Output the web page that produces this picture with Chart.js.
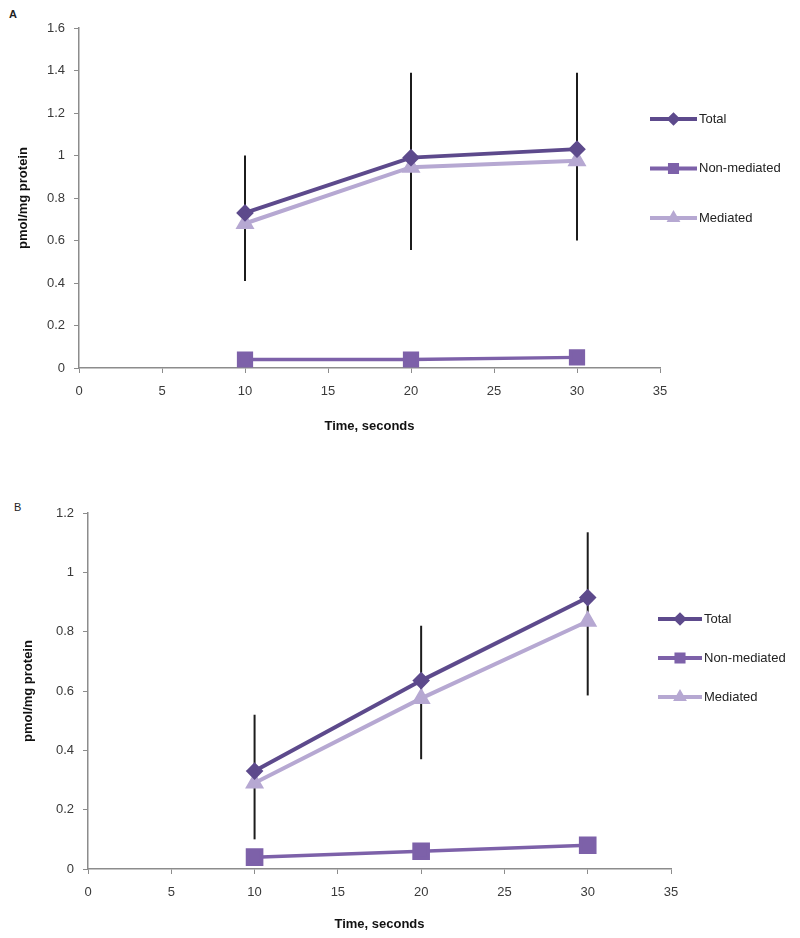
<!DOCTYPE html>
<html>
<head>
<meta charset="utf-8">
<script src="https://cdn.jsdelivr.net/npm/chart.js@4.4.1/dist/chart.umd.min.js"></script>
<style>
    body { margin: 0; background: #fff; width: 800px; height: 938px; position: relative; overflow: hidden; }
    canvas { position: absolute; left: 0; }
    #chartA { top: 0; }
    #chartB { top: 460px; }
    .panel { position: absolute; font-family: "Liberation Sans", Arial, sans-serif; font-size: 11px; color: #222; }
    #labelA { left: 9px; top: 8px; font-weight: bold; }
    #labelB { left: 14px; top: 501px; }
</style>
</head>
<body>
<div class="panel" id="labelA">A</div>
<div class="panel" id="labelB">B</div>
<canvas id="chartA" width="800" height="460"></canvas>
<canvas id="chartB" width="800" height="478"></canvas>
<script>
// Time points (seconds)
const times = [10, 20, 30];
const seriesNames = ['Total', 'Non-mediated', 'Mediated'];

// Panel A values (pmol/mg protein)
const totalA = [0.73, 0.99, 1.03];
const nonMediatedA = [0.04, 0.04, 0.05];
const mediatedA = [0.68, 0.945, 0.975];
const totalErrLowA = [0.41, 0.555, 0.60];
const totalErrHighA = [1.00, 1.39, 1.39];

// Panel B values (pmol/mg protein)
const totalB = [0.33, 0.635, 0.915];
const nonMediatedB = [0.04, 0.06, 0.08];
const mediatedB = [0.29, 0.575, 0.835];
const totalErrLowB = [0.10, 0.37, 0.585];
const totalErrHighB = [0.52, 0.82, 1.135];
const nonMedErrLowB = [null, null, 0.06];
const nonMedErrHighB = [null, null, 0.105];

// Axis ranges
const xMax = 35, xStep = 5;
const yMaxA = 1.6, yMaxB = 1.2, yStep = 0.2;

const colors = {
    total: '#5d4a8c',
    nonMediated: '#7d61a9',
    mediated: '#b6a8d2',
    axis: '#8c8c8c',
    text: '#3a3a3a',
    errBar: '#1c1c1c'
};
const fontFamily = '"Liberation Sans", Arial, sans-serif';

// vertical error bars, drawn under the lines
const errorBars = {
    id: 'errorBars',
    beforeDatasetsDraw(chart, args, opts) {
        const { ctx, scales: { x, y } } = chart;
        ctx.save();
        ctx.strokeStyle = colors.errBar;
        ctx.lineWidth = 2;
        opts.bars.forEach(bar => {
            bar.low.forEach((lo, i) => {
                if (lo == null) return;
                const px = x.getPixelForValue(times[i]);
                ctx.beginPath();
                ctx.moveTo(px, y.getPixelForValue(lo));
                ctx.lineTo(px, y.getPixelForValue(bar.high[i]));
                ctx.stroke();
            });
        });
        ctx.restore();
    }
};

// Excel style legend: line with marker in the middle
const lineLegend = {
    id: 'lineLegend',
    afterDraw(chart, args, opts) {
        const ctx = chart.ctx;
        chart.data.datasets.forEach((ds, i) => {
            const y = opts.top + i * opts.gap;
            const x0 = opts.left, x1 = opts.left + opts.len;
            ctx.save();
            ctx.strokeStyle = ds.borderColor;
            ctx.lineWidth = 4;
            ctx.beginPath();
            ctx.moveTo(x0, y);
            ctx.lineTo(x1, y);
            ctx.stroke();
            ctx.fillStyle = ds.pointBackgroundColor;
            ctx.strokeStyle = ds.pointBorderColor;
            Chart.helpers.drawPoint(ctx, { pointStyle: ds.pointStyle, radius: opts.markerRadius[i], borderWidth: 1, rotation: 0 }, (x0 + x1) / 2, y);
            ctx.fillStyle = '#222';
            ctx.font = '13px ' + fontFamily;
            ctx.textBaseline = 'middle';
            ctx.textAlign = 'left';
            ctx.fillText(ds.label, x1 + 2, y);
            ctx.restore();
        });
    }
};

function makeDatasets(total, nonMed, med, squareRadius) {
    const pts = arr => arr.map((v, i) => ({ x: times[i], y: v }));
    return [
        {
            label: seriesNames[0], data: pts(total),
            borderColor: colors.total, borderWidth: 4,
            pointStyle: 'rectRot', pointRadius: 6,
            pointBackgroundColor: colors.total, pointBorderColor: colors.total
        },
        {
            label: seriesNames[1], data: pts(nonMed),
            borderColor: colors.nonMediated, borderWidth: 3.5,
            pointStyle: 'rect', pointRadius: squareRadius,
            pointBackgroundColor: colors.nonMediated, pointBorderColor: colors.nonMediated
        },
        {
            label: seriesNames[2], data: pts(med),
            borderColor: colors.mediated, borderWidth: 4,
            pointStyle: 'triangle', pointRadius: 7,
            pointBackgroundColor: colors.mediated, pointBorderColor: colors.mediated
        }
    ];
}

function makeChart(canvasId, cfg) {
    return new Chart(document.getElementById(canvasId), {
        type: 'line',
        data: { datasets: cfg.datasets },
        options: {
            responsive: false,
            animation: false,
            devicePixelRatio: 1,
            layout: { padding: { left: 0, top: cfg.top, right: cfg.right, bottom: cfg.bottom } },
            plugins: {
                legend: { display: false },
                tooltip: { enabled: false },
                errorBars: { bars: cfg.bars },
                lineLegend: cfg.legend
            },
            scales: {
                x: {
                    type: 'linear', min: 0, max: xMax,
                    ticks: { stepSize: xStep, color: colors.text, font: { family: fontFamily, size: 13 }, padding: 11 },
                    grid: { drawOnChartArea: false, drawTicks: true, tickLength: 5, color: colors.axis },
                    border: { display: true, color: colors.axis, width: 1.5 },
                    title: {
                        display: true, text: 'Time, seconds', color: '#111',
                        font: { family: fontFamily, size: 13, weight: 'bold' },
                        padding: { top: 0, bottom: 4 }
                    },
                    afterFit: s => { s.height = cfg.xHeight; }
                },
                y: {
                    min: 0, max: cfg.yMax,
                    ticks: {
                        stepSize: yStep, color: colors.text, font: { family: fontFamily, size: 13 }, padding: 9,
                        callback: v => String(Number(v.toFixed(1)))
                    },
                    grid: { drawOnChartArea: false, drawTicks: true, tickLength: 5, color: colors.axis },
                    border: { display: true, color: colors.axis, width: 1.5 },
                    title: {
                        display: true, text: 'pmol/mg protein', color: '#111',
                        font: { family: fontFamily, size: 13, weight: 'bold' },
                        padding: { top: cfg.yTitlePad, bottom: 0 }
                    },
                    afterFit: s => { s.width = cfg.yWidth; }
                }
            }
        },
        plugins: [errorBars, lineLegend]
    });
}

makeChart('chartA', {
    datasets: makeDatasets(totalA, nonMediatedA, mediatedA, 9),
    bars: [{ low: totalErrLowA, high: totalErrHighA }],
    yMax: yMaxA,
    top: 28, right: 140, bottom: 22, xHeight: 70, yWidth: 79, yTitlePad: 16,
    legend: { left: 650, len: 47, top: 119, gap: 49.5, markerRadius: [4, 5, 4] }
});

makeChart('chartB', {
    datasets: makeDatasets(totalB, nonMediatedB, mediatedB, 10),
    bars: [
        { low: totalErrLowB, high: totalErrHighB },
        { low: nonMedErrLowB, high: nonMedErrHighB }
    ],
    yMax: yMaxB,
    top: 53, right: 129, bottom: 2, xHeight: 67, yWidth: 88, yTitlePad: 21,
    legend: { left: 658, len: 44, top: 159, gap: 39, markerRadius: [4, 5, 4] }
});
</script>
</body>
</html>
